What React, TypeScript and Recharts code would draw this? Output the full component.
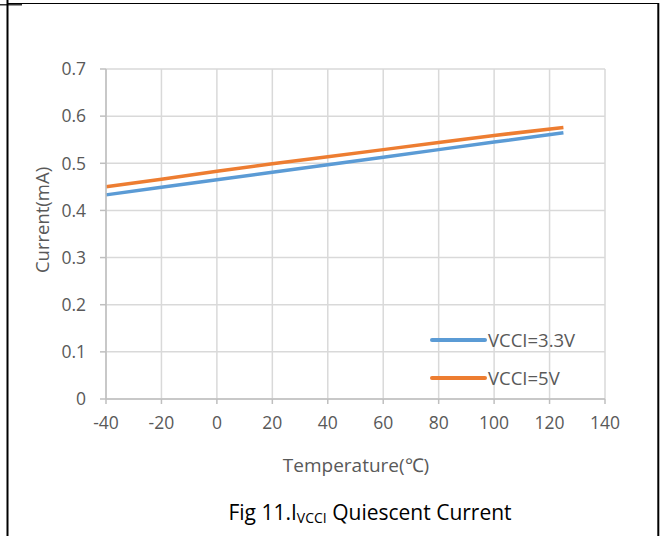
import React from 'react';
import { LineChart, Line, XAxis, YAxis, CartesianGrid, Legend } from 'recharts';

const temps = [-40, -20, 0, 20, 40, 60, 80, 100, 125];
const vcci33 = [0.433, 0.449, 0.465, 0.481, 0.497, 0.513, 0.529, 0.545, 0.565];
const vcci5 = [0.45, 0.466, 0.483, 0.499, 0.514, 0.529, 0.544, 0.559, 0.576];
const xTicks = [-40, -20, 0, 20, 40, 60, 80, 100, 120, 140];
const yTicks = [0, 0.1, 0.2, 0.3, 0.4, 0.5, 0.6, 0.7];
const seriesNames = ['VCCI=3.3V', 'VCCI=5V'];

const data = temps.map((t, i) => ({ t, a: vcci33[i], b: vcci5[i] }));

const FONT = '"Open Sans", sans-serif';
const GREY = '#595959';
const TICK_SIZE = 17.5;

const XTick = (props: any) => {
  const { x, y, payload } = props;
  return (
    <text x={x} y={y} dy="0.72em" textAnchor="middle" fill={GREY} fontSize={TICK_SIZE} fontFamily={FONT}>
      {String(payload.value)}
    </text>
  );
};

const YTick = (props: any) => {
  const { x, y, payload } = props;
  return (
    <text x={x} y={y} dy="0.36em" textAnchor="end" fill={GREY} fontSize={TICK_SIZE} fontFamily={FONT}>
      {String(payload.value)}
    </text>
  );
};

const LegendContent = (props: any) => {
  const payload = props.payload || [];
  return (
    <div style={{ fontFamily: FONT }}>
      {payload.map((p: any, i: number) => (
        <div key={i} style={{ display: 'flex', alignItems: 'center', height: 38 }}>
          <svg width={58} height={10} style={{ display: 'block' }}>
            <line x1={2} y1={5} x2={55} y2={5} stroke={p.color} strokeWidth={4} strokeLinecap="round" />
          </svg>
          <span style={{ fontSize: 18.5, color: GREY, lineHeight: '20px' }}>{p.value}</span>
        </div>
      ))}
    </div>
  );
};

export default function App() {
  return (
    <div style={{ position: 'absolute', left: 0, top: 0, width: 661, height: 536, background: '#fff', overflow: 'hidden' }}>
      <LineChart
        width={661}
        height={536}
        data={data}
        margin={{ top: 69, right: 56, left: 46, bottom: 107 }}
      >
        <CartesianGrid stroke="#d9d9d9" strokeWidth={1.5} />
        <XAxis
          dataKey="t"
          type="number"
          domain={[-40, 140]}
          ticks={xTicks}
          height={30}
          stroke="#bfbfbf"
          strokeWidth={1.5}
          tickSize={5}
          tickMargin={12}
          tick={<XTick />}
        />
        <YAxis
          type="number"
          domain={[0, 0.7]}
          ticks={yTicks}
          width={60}
          stroke="#bfbfbf"
          strokeWidth={1.5}
          tickSize={6}
          tickMargin={14}
          tick={<YTick />}
        />
        <Line
          dataKey="a"
          name={seriesNames[0]}
          stroke="#5b9bd5"
          strokeWidth={3.5}
          dot={false}
          isAnimationActive={false}
        />
        <Line
          dataKey="b"
          name={seriesNames[1]}
          stroke="#ed7d31"
          strokeWidth={3.5}
          dot={false}
          isAnimationActive={false}
        />
        <Legend
          layout="vertical"
          align="center"
          verticalAlign="middle"
          content={<LegendContent />}
          wrapperStyle={{ position: 'absolute', left: 430, top: 321, width: 200, height: 80 }}
        />
      </LineChart>
      <div
        style={{
          position: 'absolute',
          left: 42 - 100,
          top: 220 - 12,
          width: 200,
          height: 24,
          textAlign: 'center',
          transform: 'rotate(-90deg)',
          fontFamily: FONT,
          fontSize: 18.5,
          color: GREY,
          lineHeight: '24px',
        }}
      >
        Current(mA)
      </div>
      <div
        style={{
          position: 'absolute',
          left: 256,
          top: 453,
          width: 200,
          textAlign: 'center',
          fontFamily: FONT,
          fontSize: 19,
          color: GREY,
          lineHeight: '24px',
        }}
      >
        Temperature(℃)
      </div>
      <div
        style={{
          position: 'absolute',
          left: 170,
          top: 499,
          width: 400,
          textAlign: 'center',
          fontFamily: FONT,
          fontSize: 21,
          color: '#000',
          lineHeight: '26px',
        }}
      >
        Fig 11.I<sub style={{ fontSize: 14, verticalAlign: '-3px' }}>VCCI</sub> Quiescent Current
      </div>
      <svg width={661} height={536} style={{ position: 'absolute', left: 0, top: 0, pointerEvents: 'none' }}>
        <line x1={7.5} y1={0} x2={7.5} y2={536} stroke="#000" strokeWidth={2} />
        <line x1={7} y1={3.5} x2={659} y2={3.5} stroke="#000" strokeWidth={1.2} />
        <line x1={0} y1={4.8} x2={22} y2={4.8} stroke="#000" strokeWidth={1.2} />
        <line x1={658.3} y1={3} x2={658.3} y2={536} stroke="#000" strokeWidth={2} />
      </svg>
    </div>
  );
}
